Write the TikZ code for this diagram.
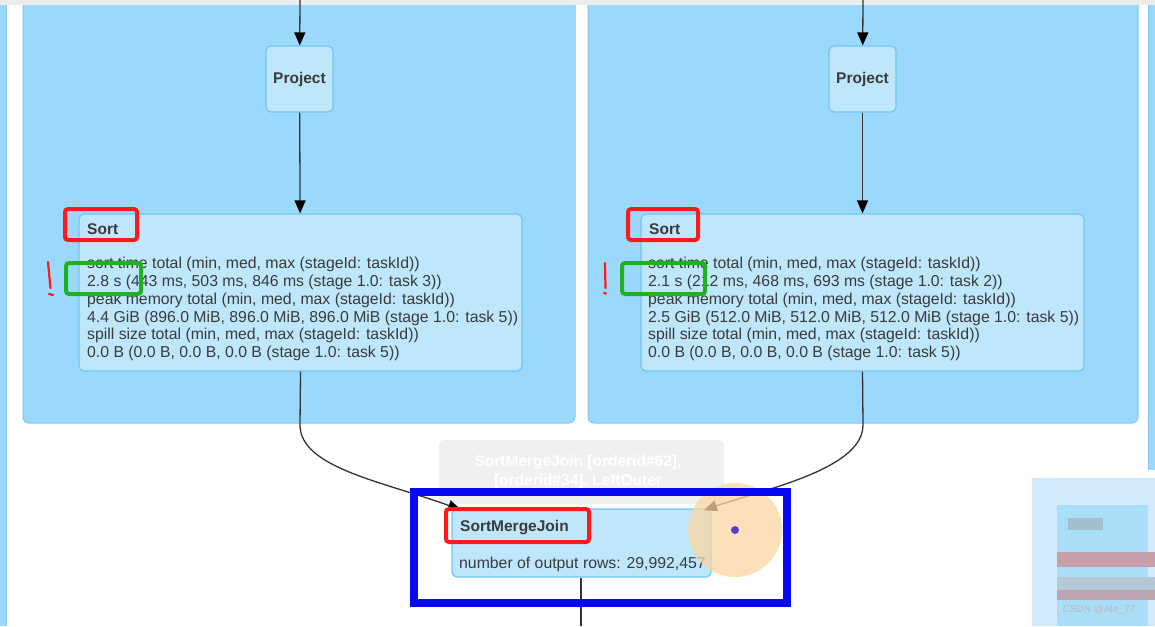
\documentclass[tikz,border=0pt]{standalone}
\usepackage{fontspec}
\setmainfont{Liberation Sans}
\usetikzlibrary{arrows.meta}
\definecolor{clusterfill}{HTML}{9BD9FC}
\definecolor{clusterdraw}{HTML}{7CC9F2}
\definecolor{nodefill}{HTML}{BFE7FC}
\definecolor{nodedraw}{HTML}{72C5F3}
\definecolor{txt}{HTML}{3A3A3A}
\definecolor{edge}{HTML}{333333}
\definecolor{markred}{HTML}{FF1A1A}
\definecolor{markgreen}{HTML}{1FB21F}
\definecolor{markblue}{HTML}{0808F2}
\definecolor{glow}{HTML}{FAD6A2}
\definecolor{dotc}{HTML}{5B3CC4}
\definecolor{pixa}{RGB}{210,234,250}
\definecolor{pixb}{RGB}{170,222,248}
\definecolor{pixc}{RGB}{165,190,205}
\definecolor{pixd}{RGB}{200,158,170}
\definecolor{pixe}{RGB}{180,200,214}
\definecolor{pixf}{RGB}{190,165,178}
\tikzset{
  cluster/.style={fill=clusterfill, draw=clusterdraw, line width=1pt, rounded corners=6pt},
  opbox/.style={fill=nodefill, draw=nodedraw, line width=1.2pt, rounded corners=5pt, inner sep=0pt},
  title/.style={font=\fontsize{15.5}{17}\selectfont\bfseries, text=txt, inner sep=0pt},
  body/.style={font=\fontsize{15.8}{17.8}\selectfont, text=txt, inner sep=0pt, align=left},
  flow/.style={draw=edge, line width=1.3pt, -{Triangle[width=11pt,length=13pt,color=black]}},
  redmark/.style={draw=markred, line width=4pt, rounded corners=3pt},
  greenmark/.style={draw=markgreen, line width=4pt, rounded corners=3pt},
  bluemark/.style={draw=markblue, line width=8pt},
  bang/.style={draw=markred, line width=2.2pt, line cap=round}
}
\begin{document}
\begin{tikzpicture}[x=1pt,y=-1pt]
\useasboundingbox (0,0) rectangle (1155,626);
\fill[white] (0,0) rectangle (1155,626);

% outer strips
\fill[clusterfill] (0,5) rectangle (6,626);
\draw[clusterdraw, line width=1pt] (6,5) -- (6,626);
\fill[clusterfill] (1148,5) rectangle (1155,470);
\draw[clusterdraw, line width=1pt] (1148,5) -- (1148,470);

% clusters
\draw[cluster] (23,-10) rectangle (575,423);
\draw[cluster] (588,-10) rectangle (1138,423);
\fill[gray!15] (0,0) rectangle (1155,5);

% left column
\coordinate (lt) at (300,0);
\node[opbox, minimum width=67pt, minimum height=66pt] (lp) at (299.5,79) {};
\node[title] (lpt) at (lp.center) {Project};
\node[opbox, minimum width=443pt, minimum height=157pt] (ls) at (300.5,292.5) {};
\node[title, anchor=base west] (lst) at (87,234) {Sort};
\node[body, anchor=north west] (lsb) at (87,257) {sort time total (min, med, max (stageId: taskId))\\
2.8 s (443 ms, 503 ms, 846 ms (stage 1.0: task 3))\\
peak memory total (min, med, max (stageId: taskId))\\
4.4 GiB (896.0 MiB, 896.0 MiB, 896.0 MiB (stage 1.0: task 5))\\
spill size total (min, med, max (stageId: taskId))\\
0.0 B (0.0 B, 0.0 B, 0.0 B (stage 1.0: task 5))};

% right column
\coordinate (rt) at (863,0);
\node[opbox, minimum width=67pt, minimum height=66pt] (rp) at (862.5,79) {};
\node[title] (rpt) at (rp.center) {Project};
\node[opbox, minimum width=443pt, minimum height=157pt] (rs) at (862.5,292.5) {};
\node[title, anchor=base west] (rst) at (649,234) {Sort};
\node[body, anchor=north west] (rsb) at (648,257) {sort time total (min, med, max (stageId: taskId))\\
2.1 s (212 ms, 468 ms, 693 ms (stage 1.0: task 2))\\
peak memory total (min, med, max (stageId: taskId))\\
2.5 GiB (512.0 MiB, 512.0 MiB, 512.0 MiB (stage 1.0: task 5))\\
spill size total (min, med, max (stageId: taskId))\\
0.0 B (0.0 B, 0.0 B, 0.0 B (stage 1.0: task 5))};

% tooltip ghost
\node[fill=gray!12, rounded corners=5pt, minimum width=285pt, minimum height=64pt, inner sep=0pt] (tip) at (581.5,472) {};
\node[font=\fontsize{15.5}{19}\selectfont\bfseries, text=white, align=center, inner sep=0pt] (tipt) at (578,472) {SortMergeJoin {[}orderid\#62{]},\\{}{[}orderid\#34{]}, LeftOuter};

% join node
\node[opbox, minimum width=259pt, minimum height=68pt] (j) at (581.5,543) {};
\node[title, anchor=base west] (jt) at (460,531) {SortMergeJoin};
\node[body, anchor=base west] (jb) at (459,568) {number of output rows: 29,992,457};
\coordinate (jout) at (581,626);

% edges
\draw[flow] (lt) -- (lp);
\draw[flow] (lp) -- (ls);
\draw[flow] (rt) -- (rp);
\draw[flow] (rp) -- (rs);
\draw[flow] (ls.south) -- (300,425) .. controls (300,468) and (385,482) .. (461,510);
\draw[flow] (rs.south) -- (863,425) .. controls (863,468) and (770,488) .. (704,510);
\draw[draw=edge, line width=1.3pt] (j.south -| jout) -- (jout);

% hover glow
\fill[glow, opacity=0.75] (735,530) circle (47);
\fill[dotc] (735,530) circle (4);

% annotations
\draw[redmark] (65,209) rectangle (137,240);
\draw[greenmark] (66,263) rectangle (141,294);
\draw[redmark] (628,209) rectangle (698,240);
\draw[greenmark] (622,263) rectangle (705,294);
\draw[redmark] (446,509) rectangle (589,542);
\draw[bluemark] (414,492) rectangle (787,603);
\draw[bang] (48,262) -- (50.5,288);
\draw[bang] (49,294) -- (53,295);
\draw[bang] (605,263) -- (605.5,288);
\draw[bang] (604,293) -- (606,293.5);

% pixelated corner
\fill[pixa] (1032,478) rectangle (1155,626);
\fill[pixb] (1057,505) rectangle (1148,626);
\fill[pixc] (1068,518) rectangle (1103,530);
\fill[pixd] (1057,552) rectangle (1155,567);
\fill[pixe] (1057,577) rectangle (1155,600);
\fill[pixf] (1057,590) rectangle (1155,600);
\node[font=\fontsize{10}{11}\selectfont, text=white!45!gray, inner sep=0pt] (wm) at (1099,610) {CSDN @Ale\_77};
\end{tikzpicture}
\end{document}
